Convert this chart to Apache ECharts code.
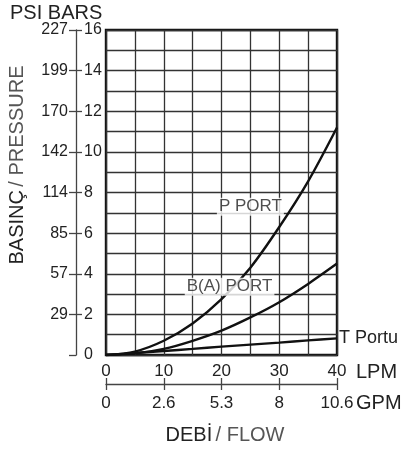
<!DOCTYPE html>
<html>
<head>
<meta charset="utf-8">
<script src="https://cdn.jsdelivr.net/npm/echarts@6/dist/echarts.min.js"></script>
<style>
html,body{margin:0;padding:0;background:#fff;}
#c{width:407px;height:450px;}
</style>
</head>
<body>
<div id="c"></div>
<script>
// ---- data ----
var lpm = [0, 5, 10, 15, 20, 25, 30, 35, 40];
var pPort = [0, 0.17, 0.7, 1.55, 2.75, 4.3, 6.3, 8.55, 11.2];
var bPort = [0, 0.08, 0.3, 0.7, 1.2, 1.85, 2.6, 3.5, 4.5];
var tPort = [0, 0.1, 0.2, 0.3, 0.41, 0.51, 0.61, 0.72, 0.82];
var seriesNames = ['P PORT', 'B(A) PORT', 'T Portu'];
var psiLabels = ['', '29', '57', '85', '114', '142', '170', '199', '227']; // at 0,2,...,16 bar
var gpmLabels = ['0', '2.6', '5.3', '8', '10.6']; // at 0,10,20,30,40 LPM

var FONT = '"Liberation Sans", Arial, Helvetica, sans-serif';
function pairs(ys){ return lpm.map(function(x,i){ return [x, ys[i]]; }); }

var chart = echarts.init(document.getElementById('c'), null, {renderer:'canvas'});
var lineStyle = {color:'#111', width:2.4};
var axGray = '#444';
var option = {
  animation:false,
  backgroundColor:'#fff',
  textStyle:{fontFamily:FONT},
  grid:{left:106, right:70, top:30, bottom:95, show:true, borderColor:'#111', borderWidth:2.4, backgroundColor:'transparent'},
  xAxis:[
    {type:'value', min:0, max:40, interval:5, gridIndex:0,
     axisLine:{show:false, onZero:false}, axisTick:{show:false},
     splitLine:{show:true, lineStyle:{color:'#333', width:1.3}},
     axisLabel:{show:true, margin:8, fontSize:17, color:'#222', fontFamily:FONT,
       formatter:function(v){ return v % 10 === 0 ? String(v) : ''; }}},
    {type:'value', min:0, max:40, interval:10, gridIndex:0, position:'bottom', offset:29,
     axisLine:{show:true, onZero:false, lineStyle:{color:axGray, width:1.3}},
     axisTick:{show:true, inside:false, length:6, lineStyle:{color:axGray, width:1.3}},
     splitLine:{show:false},
     axisLabel:{show:true, margin:11, fontSize:17, color:'#222', fontFamily:FONT,
       formatter:function(v){ return gpmLabels[Math.round(v/10)]; }}},
    {type:'value', min:0, max:40, interval:10, gridIndex:0, position:'bottom', offset:29,
     axisLine:{show:false, onZero:false},
     axisTick:{show:true, inside:true, length:6, lineStyle:{color:axGray, width:1.3}},
     splitLine:{show:false}, axisLabel:{show:false}}
  ],
  yAxis:[
    {type:'value', min:0, max:16, interval:1, gridIndex:0,
     axisLine:{show:false, onZero:false}, axisTick:{show:false}, axisLabel:{show:false},
     splitLine:{show:true, lineStyle:{color:'#333', width:1.3}}},
    {type:'value', min:0, max:16, interval:2, gridIndex:0, position:'left', offset:30,
     axisLine:{show:true, onZero:false, lineStyle:{color:axGray, width:1.3}},
     axisTick:{show:true, inside:true, length:6, customValues:[2,4,6,8,10,12,14,16], lineStyle:{color:axGray, width:1.3}},
     splitLine:{show:false},
     axisLabel:{show:true, inside:true, margin:8, fontSize:16, color:'#222', fontFamily:FONT}},
    {type:'value', min:0, max:16, interval:2, gridIndex:0, position:'left', offset:30,
     axisLine:{show:false, onZero:false},
     axisTick:{show:true, inside:false, length:7, lineStyle:{color:axGray, width:1.3}},
     splitLine:{show:false},
     axisLabel:{show:true, margin:8, fontSize:16, color:'#222', fontFamily:FONT,
       formatter:function(v){ return psiLabels[Math.round(v/2)]; }}}
  ],
  series:[
    {name:seriesNames[0], type:'line', data:pairs(pPort), smooth:0.3, symbol:'none', lineStyle:lineStyle, z:3},
    {name:seriesNames[1], type:'line', data:pairs(bPort), smooth:0.3, symbol:'none', lineStyle:lineStyle, z:3},
    {name:seriesNames[2], type:'line', data:pairs(tPort), smooth:0.3, symbol:'none', lineStyle:lineStyle, z:3,
     endLabel:{show:true, formatter:function(p){ return p.seriesName; }, distance:2,
       fontSize:18, color:'#222', fontFamily:FONT}},
    {type:'scatter', symbolSize:0, zlevel:1, z:10, silent:true,
     data:[
       {value:[25.0, 7.3], name:seriesNames[0]},
       {value:[21.4, 3.36], name:seriesNames[1]}
     ],
     label:{show:true, position:'inside', formatter:'{b}', fontSize:17, color:'#222', fontFamily:FONT,
       backgroundColor:'#fff', padding:[1,2,0,2]}}
  ],
  graphic:[
    {type:'text', left:10, top:3, style:{text:'PSI BARS', font:'20px '+FONT, fill:'#222'}},
    {type:'text', x:356, y:372, style:{text:'LPM', font:'20px '+FONT, fill:'#222', textVerticalAlign:'middle'}},
    {type:'text', x:356, y:403, style:{text:'GPM', font:'20px '+FONT, fill:'#222', textVerticalAlign:'middle'}},
    {type:'text', x:225, y:435, style:{rich:{a:{font:'20px '+FONT, fill:'#222'}, b:{font:'20px '+FONT, fill:'#555'}},
      text:'{a|DEBİ} {b|/ FLOW}', textAlign:'center', textVerticalAlign:'middle'}},
    {type:'text', x:17, y:165, rotation:Math.PI/2, style:{rich:{a:{font:'20px '+FONT, fill:'#222'}, b:{font:'20px '+FONT, fill:'#555'}},
      text:'{a|BASINÇ} {b|/ PRESSURE}', textAlign:'center', textVerticalAlign:'middle'}}
  ]
};
chart.setOption(option);
</script>
</body>
</html>
